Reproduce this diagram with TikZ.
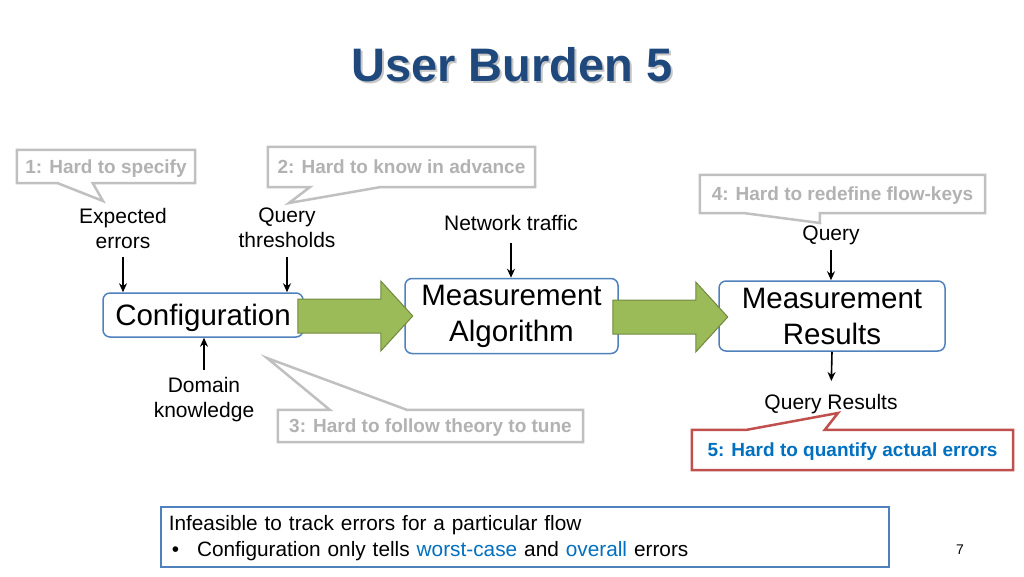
\documentclass[tikz,border=0pt]{standalone}
\usepackage{fontspec}
\setmainfont{Liberation Sans}
\usepackage{xcolor}
\usetikzlibrary{calc, positioning, arrows.meta}

\definecolor{titleblue}{RGB}{31,73,125}
\definecolor{boxblue}{RGB}{79,129,189}
\definecolor{arrowgreen}{RGB}{155,187,89}
\definecolor{arrowgreendark}{RGB}{113,137,63}
\definecolor{hintgray}{RGB}{178,178,178}
\definecolor{linegray}{RGB}{192,192,192}
\definecolor{hintred}{RGB}{192,80,77}
\definecolor{textblue}{RGB}{0,112,192}

\tikzset{
    slide/.style={
        x=1pt, y=-1pt,
        font=\fontsize{21}{25}\selectfont,
        >={Stealth[length=9pt, width=8pt]},
        box/.style={draw=boxblue, line width=1.5pt, rounded corners=7pt, fill=white, align=center, inner sep=0pt, font=\fontsize{29.5}{36}\selectfont},
        input/.style={align=center, inner sep=0pt},
        hint/.style={text=hintgray, inner sep=0pt, text depth=0pt, font=\fontsize{19}{22}\selectfont\bfseries},
        hintline/.style={draw=linegray, line width=2.5pt, line join=miter},
        arrow/.style={line width=1.6pt, ->},
        bigarrow/.style={fill=arrowgreen, draw=arrowgreendark, line width=1pt, line join=miter}
    }
}

\begin{document}
\begin{tikzpicture}[slide]
        \useasboundingbox[fill=white] (0,0) rectangle (1024,576);

        % Title
        \node[text=gray!45, font=\fontsize{47}{52}\selectfont\bfseries] (titleshadow) at (514,67) {User Burden 5};
        \node[text=titleblue, font=\fontsize{47}{52}\selectfont\bfseries] (title) at (512,65) {User Burden 5};

        % Main blocks
        \node[box, text depth=0pt, minimum width=200pt, minimum height=44pt] (config) at (203,315) {Configuration};
        \node[box, minimum width=213pt, minimum height=75pt] (algo) at (511.5,316) {Measurement\\Algorithm};
        \node[box, minimum width=226pt, minimum height=70pt] (results) at (832,316) {Measurement\\Results};

        % Inputs and outputs
        \node[input] (expected) at (123,228) {Expected\\errors};
        \node[input] (thresholds) at (287,228) {Query\\thresholds};
        \node[input] (traffic) at (511,223) {Network traffic};
        \node[input] (query) at (831,235) {Query};
        \node[input] (domain) at (204,400) {Domain\\knowledge};
        \node[input] (qresults) at (831,404) {Query Results};

        \draw[arrow, shorten <=9pt] (expected.south) -- (expected.south |- config.north);
        \draw[arrow, shorten <=9pt] (thresholds.south) -- (thresholds.south |- config.north);
        \draw[arrow, shorten <=12pt] (traffic.south) -- (traffic.south |- algo.north);
        \draw[arrow, shorten <=5pt] (query.south) -- (query.south |- results.north);
        \draw[arrow, shorten <=8pt] (domain.north) -- (domain.north |- config.south);
        \draw[arrow, shorten >=13pt] (results.south) -- (qresults.north);

        % Block arrows
        \draw[bigarrow] ($(config.east)+(-6,-16)$) -- ++(83,0) -- ++(0,-18) -- ++(32,35) -- ++(-32,35) -- ++(0,-18) -- ++(-83,0) -- cycle;
        \draw[bigarrow] ($(algo.east)+(-6,-16)$) -- ++(83,0) -- ++(0,-18) -- ++(32,35) -- ++(-32,35) -- ++(0,-18) -- ++(-83,0) -- cycle;

        % Callouts
        \node[hint, minimum width=178pt, minimum height=33pt] (hard1) at (106,166.5) {1: Hard to specify};
        \coordinate (tip1) at (103,201);
        \draw[hintline] (hard1.south west) -- (hard1.north west) -- (hard1.north east) -- (hard1.south east)
            -- ($(hard1.south west)+(76,0)$) -- (tip1) -- ($(hard1.south west)+(41,0)$) -- cycle;

        \node[hint, minimum width=267pt, minimum height=40pt] (hard2) at (401.5,167) {2: Hard to know in advance};
        \coordinate (tip2) at (289,203);
        \draw[hintline] (hard2.south west) -- (hard2.north west) -- (hard2.north east) -- (hard2.south east)
            -- ($(hard2.south west)+(112,0)$) -- (tip2) -- ($(hard2.south west)+(42,0)$) -- cycle;

        \node[hint, minimum width=305pt, minimum height=32pt] (hard3) at (430.5,426) {3: Hard to follow theory to tune};
        \coordinate (tip3) at (267,358);
        \draw[hintline] (hard3.north west) -- ($(hard3.north west)+(52,0)$) -- (tip3) -- ($(hard3.north west)+(129,0)$)
            -- (hard3.north east) -- (hard3.south east) -- (hard3.south west) -- cycle;

        \node[hint, minimum width=285pt, minimum height=38pt] (hard4) at (842.5,194) {4: Hard to redefine flow-keys};
        \coordinate (tip4) at (820,223);
        \draw[hintline] (hard4.south west) -- (hard4.north west) -- (hard4.north east) -- (hard4.south east)
            -- ($(hard4.south west)+(120,0)$) -- (tip4) -- ($(hard4.south west)+(45,0)$) -- cycle;

        \node[hint, text=textblue, minimum width=321pt, minimum height=40pt] (hard5) at (852.5,450) {5: Hard to quantify actual errors\hspace{16pt}};
        \coordinate (tip5) at (838,413);
        \draw[hintline, draw=hintred] (hard5.north west) -- ($(hard5.north west)+(55,0)$) -- (tip5) -- ($(hard5.north west)+(133,0)$)
            -- (hard5.north east) -- (hard5.south east) -- (hard5.south west) -- cycle;

        % Summary
        \node[draw=boxblue, line width=1.5pt, anchor=north west, minimum height=60pt, text width=712pt,
              inner xsep=8pt, inner ysep=0pt, align=left, font=\fontsize{20.8}{26}\selectfont] (summary) at (160,506)
            {\rule{0pt}{17pt}Infeasible to track errors for a particular flow\\
             \hspace*{3pt}\textbullet\hspace{18pt}Configuration only tells \textcolor{textblue}{worst-case} and \textcolor{textblue}{overall} errors};

        \node[font=\fontsize{14}{16}\selectfont] (pagenum) at (960,550) {7};

    \end{tikzpicture}
\end{document}
